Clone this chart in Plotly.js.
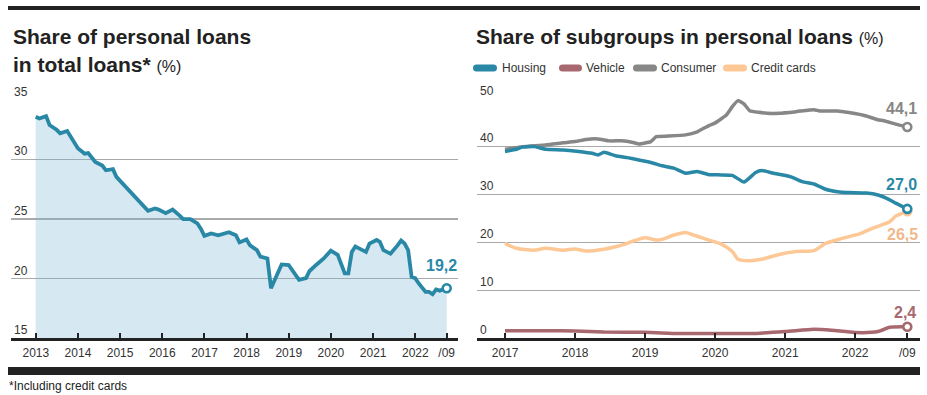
<!DOCTYPE html>
<html>
<head>
<meta charset="utf-8">
<script src="https://cdn.plot.ly/plotly-3.0.1.min.js"></script>
<style>
html,body{margin:0;padding:0;background:#fff;}
#chart{width:927px;height:395px;}
</style>
</head>
<body>
<div id="chart"></div>
<script>
// ---------------- DATA ----------------
// Left panel: share of personal loans in total loans (%), month-end readings
const totalMonths = ["2012-12","2013-01","2013-03","2013-04","2013-06","2013-07","2013-09","2013-10","2013-12","2014-02",
  "2014-03","2014-05","2014-07","2014-08","2014-10","2014-11","2015-02","2015-04","2015-06","2015-08",
  "2015-10","2015-11","2016-01","2016-03","2016-05","2016-06","2016-08","2016-10","2016-11","2016-12",
  "2017-02","2017-04","2017-07","2017-09","2017-10","2017-12","2018-01","2018-03","2018-04","2018-06",
  "2018-07","2018-09","2018-10","2018-12","2019-02","2019-03","2019-05","2019-06","2019-08","2019-10",
  "2019-12","2020-02","2020-04","2020-05","2020-06","2020-07","2020-08","2020-10","2020-11","2021-01",
  "2021-02","2021-03","2021-04","2021-05","2021-07","2021-08","2021-09","2021-10","2021-11","2021-12",
  "2022-01","2022-03","2022-04","2022-05","2022-06","2022-07","2022-09"];
const totalShare = [33.6,33.45,33.65,32.9,32.5,32.2,32.4,31.9,30.95,30.5,
  30.55,29.8,29.5,29.1,29.2,28.55,27.6,27.0,26.3,25.7,
  25.9,25.8,25.5,25.8,25.3,25.0,25.0,24.65,24.2,23.6,
  23.8,23.65,23.9,23.65,23.05,23.3,22.8,22.4,21.85,21.7,
  19.2,20.45,21.2,21.15,20.4,19.9,20.05,20.65,21.2,21.7,
  22.35,22.0,20.45,20.45,22.25,22.7,22.55,22.25,22.95,23.25,
  23.1,22.4,22.25,22.1,22.8,23.2,22.95,22.4,20.15,20.05,
  19.6,18.9,18.9,18.7,19.1,19.0,19.2];
const totalLabel = "19,2";

// Right panel: share of subgroups in personal loans (%)
const housingMonths = ["2016-12","2017-02","2017-03","2017-05","2017-07","2017-10","2018-01","2018-03","2018-04","2018-05",
  "2018-07","2018-09","2018-11","2019-01","2019-03","2019-05","2019-07","2019-09","2019-11","2020-01",
  "2020-03","2020-05","2020-07","2020-08","2020-10","2021-01","2021-03","2021-05","2021-07","2021-09",
  "2021-11","2022-02","2022-04","2022-06","2022-07","2022-09"];
const housingShare = [39.0,39.45,39.9,40.0,39.45,39.3,38.95,38.6,38.25,38.8,
  38.1,37.7,37.2,36.7,36.0,35.5,34.45,34.8,34.15,34.1,
  34.0,32.6,34.6,35.0,34.45,33.7,32.7,32.2,31.1,30.6,
  30.4,30.3,29.9,28.9,28.2,27.0];

const vehicleMonths = ["2016-12","2017-07","2017-12","2018-05","2018-12","2019-06","2019-12","2020-06","2020-12","2021-05",
  "2021-08","2021-12","2022-04","2022-06","2022-09"];
const vehicleShare = [1.6,1.6,1.5,1.3,1.25,1.0,1.0,1.0,1.4,1.9,1.7,1.2,1.4,2.3,2.4];

const consumerMonths = ["2016-12","2017-03","2017-07","2017-10","2017-12","2018-02","2018-04","2018-06","2018-08","2018-10",
  "2018-11","2019-01","2019-02","2019-04","2019-07","2019-09","2019-11","2019-12","2020-02","2020-03",
  "2020-04","2020-05","2020-06","2020-09","2020-11","2021-02","2021-05","2021-06","2021-09","2021-11",
  "2022-02","2022-04","2022-05","2022-07","2022-09"];
const consumerShare = [39.45,40.0,40.35,40.8,41.05,41.5,41.6,41.2,41.2,40.85,
  40.55,41.05,42.1,42.2,42.45,43.1,44.4,44.9,46.6,48.35,
  49.6,48.9,47.5,46.97,46.97,47.3,47.7,47.45,47.45,47.1,
  46.4,45.6,45.4,44.7,44.1];

const cardsMonths = ["2016-12","2017-02","2017-05","2017-07","2017-10","2017-12","2018-02","2018-05","2018-07","2018-09",
  "2018-10","2018-12","2019-02","2019-03","2019-05","2019-07","2019-08","2019-10","2019-11","2020-01",
  "2020-03","2020-04","2020-06","2020-08","2020-11","2021-02","2021-05","2021-07","2021-10","2022-01",
  "2022-03","2022-06","2022-07","2022-09"];
const cardsShare = [19.8,18.8,18.4,18.8,18.4,18.65,18.2,18.6,19.1,19.8,
  20.3,21.0,20.5,20.65,21.55,22.1,21.7,20.9,20.5,19.7,
  18.1,16.5,16.2,16.5,17.5,18.1,18.3,19.8,20.9,21.9,
  22.95,24.3,25.5,26.5];

const seriesNames = ["Housing","Vehicle","Consumer","Credit cards"];
const endLabels = {Housing:"27,0", Vehicle:"2,4", Consumer:"44,1", "Credit cards":"26,5"};

const leftTickDates = ["2013-01-01","2014-01-01","2015-01-01","2016-01-01","2017-01-01","2018-01-01","2019-01-01","2020-01-01","2021-01-01","2022-01-01","2022-09-30"];
const leftTickText  = ["2013","2014","2015","2016","2017","2018","2019","2020","2021","2022","/09"];
const rightTickDates = ["2017-01-01","2018-01-01","2019-01-01","2020-01-01","2021-01-01","2022-01-01","2022-09-30"];
const rightTickText  = ["2017","2018","2019","2020","2021","2022","/09"];
const leftYTicks = [15,20,25,30,35];
const rightYTicks = [0,10,20,30,40,50];

// ---------------- STYLE ----------------
const W = 927, H = 395;
const FONT = "'Liberation Sans', Arial, sans-serif";
const C = {housing:"#2a88a7", vehicle:"#a8686f", consumer:"#878787", cards:"#fdc895", cardsText:"#f0b98b",
           fill:"rgba(120,178,210,0.30)", grid:"#a9a9a9", ink:"#222222", tick:"#333333"};
const fx = p => p / W;
const fy = p => 1 - p / H;
function monthEnd(s){
  const [y,m] = s.split("-").map(Number);
  const d = new Date(Date.UTC(y, m, 0)).getUTCDate();
  return y + "-" + String(m).padStart(2,"0") + "-" + String(d).padStart(2,"0");
}
function fmt(ms){ return new Date(ms).toISOString().slice(0,19).replace("T"," "); }
function dateRange(d0,p0,d1,p1,a,b){
  const t0 = Date.parse(d0+"T00:00:00Z"), t1 = Date.parse(d1+"T00:00:00Z");
  const k = (p1-p0)/(t1-t0);
  return [fmt(t0-(p0-a)/k), fmt(t1+(b-p1)/k)];
}
const last = a => a[a.length-1];

const totalX = totalMonths.map(monthEnd);
const hX = housingMonths.map(monthEnd), vX = vehicleMonths.map(monthEnd),
      cX = consumerMonths.map(monthEnd), kX = cardsMonths.map(monthEnd);

function lineTrace(x,y,color,xa,ya,width,extra){
  return Object.assign({type:"scatter",mode:"lines",x:x,y:y,xaxis:xa,yaxis:ya,
    line:{color:color,width:width,shape:"linear"},hoverinfo:"skip"}, extra||{});
}
function endMarker(x,y,color,xa,ya){
  return {type:"scatter",mode:"markers",x:[last(x)],y:[last(y)],xaxis:xa,yaxis:ya,hoverinfo:"skip",
    marker:{symbol:"circle",size:8,color:"#ffffff",line:{color:color,width:2.6}}};
}

const traces = [
  lineTrace(totalX,totalShare,C.housing,"x","y",3.8,{fill:"tozeroy",fillcolor:C.fill}),
  endMarker(totalX,totalShare,C.housing,"x","y"),
  lineTrace(kX,cardsShare,C.cards,"x2","y2",3.5,{line:{color:C.cards,width:3.5,shape:"spline",smoothing:0.6}}),
  lineTrace(vX,vehicleShare,C.vehicle,"x2","y2",3.5,{line:{color:C.vehicle,width:3.5,shape:"spline",smoothing:0.6}}),
  lineTrace(cX,consumerShare,C.consumer,"x2","y2",3.5,{line:{color:C.consumer,width:3.5,shape:"spline",smoothing:0.4}}),
  lineTrace(hX,housingShare,C.housing,"x2","y2",3.5,{line:{color:C.housing,width:3.5,shape:"spline",smoothing:0.4}}),
  endMarker(kX,cardsShare,C.cards,"x2","y2"),
  endMarker(vX,vehicleShare,C.vehicle,"x2","y2"),
  endMarker(cX,consumerShare,C.consumer,"x2","y2"),
  endMarker(hX,housingShare,C.housing,"x2","y2")
];

const xCommon = {type:"date",ticks:"inside",ticklen:5,tickwidth:2,tickcolor:C.ink,showline:true,linecolor:C.ink,
  linewidth:2.5,showgrid:false,zeroline:false,tickfont:{family:FONT,size:12,color:C.tick},ticklabelstandoff:2,fixedrange:true};
const yCommon = {showgrid:true,gridcolor:C.grid,gridwidth:1.5,zeroline:false,showline:false,ticks:"",
  ticklabelposition:"inside top",ticklabeloverflow:"allow",tickfont:{family:FONT,size:12,color:C.tick},fixedrange:true};

const layout = {
  width:W,height:H,margin:{l:0,r:0,t:0,b:0,pad:0},paper_bgcolor:"#ffffff",plot_bgcolor:"rgba(0,0,0,0)",
  showlegend:false,font:{family:FONT,size:12,color:C.tick},
  xaxis:Object.assign({},xCommon,{domain:[fx(11),fx(458)],anchor:"y",
    range:dateRange("2012-12-31",35.7,"2022-09-30",446.7,11,458),tickvals:leftTickDates,ticktext:leftTickText}),
  yaxis:Object.assign({},yCommon,{domain:[fy(338.3),fy(100)],anchor:"x",range:[15,35],tickvals:leftYTicks}),
  xaxis2:Object.assign({},xCommon,{domain:[fx(477),fx(920)],anchor:"y2",
    range:dateRange("2016-12-31",505,"2022-09-30",907.3,477,920),tickvals:rightTickDates,ticktext:rightTickText}),
  yaxis2:Object.assign({},yCommon,{domain:[fy(338.3),fy(98.7)],anchor:"x2",range:[0,50],tickvals:rightYTicks}),
  shapes:[],
  annotations:[]
};

// frame rules
layout.shapes.push({type:"rect",xref:"paper",yref:"paper",x0:fx(8),x1:fx(920),y0:fy(10),y1:fy(6),fillcolor:C.ink,line:{width:0},layer:"above"});
layout.shapes.push({type:"rect",xref:"paper",yref:"paper",x0:fx(8),x1:fx(920),y0:fy(375),y1:fy(367),fillcolor:C.ink,line:{width:0},layer:"above"});

// titles
const ann = layout.annotations;
function txt(text,x,y,size,color,opts){
  ann.push(Object.assign({text:text,xref:"paper",yref:"paper",x:fx(x),y:fy(y),xanchor:"left",yanchor:"middle",
    showarrow:false,font:{family:FONT,size:size,color:color}},opts||{}));
}
txt("<b>Share of personal loans</b>",11,36.5,21,C.ink);
txt("<b>in total loans*</b> <span style='font-size:16px'>(%)</span>",11,64.5,21,C.ink);
txt("<b>Share of subgroups in personal loans</b> <span style='font-size:16px'>(%)</span>",474,36.5,21,C.ink);

// legend (manual pills)
const legendItems = [
  {name:seriesNames[0],color:C.housing,x0:473,x1:497,tx:500},
  {name:seriesNames[1],color:C.vehicle,x0:559,x1:582,tx:584},
  {name:seriesNames[2],color:C.consumer,x0:633,x1:657,tx:659},
  {name:seriesNames[3],color:C.cards,x0:723,x1:747,tx:749}
];
const ly = 68, r = 3.5;
legendItems.forEach(it=>{
  const X0=fx(it.x0),X1=fx(it.x1),XA=fx(it.x0+r),XB=fx(it.x1-r),Yt=fy(ly-r),Yb=fy(ly+r),Yc=fy(ly);
  layout.shapes.push({type:"path",xref:"paper",yref:"paper",fillcolor:it.color,line:{width:0},
    path:`M ${XA},${Yt} L ${XB},${Yt} Q ${X1},${Yt} ${X1},${Yc} Q ${X1},${Yb} ${XB},${Yb} L ${XA},${Yb} Q ${X0},${Yb} ${X0},${Yc} Q ${X0},${Yt} ${XA},${Yt} Z`});
  txt(it.name,it.tx,ly,12,C.tick);
});

// footnote
txt("*Including credit cards",7,386,12,C.ink);

// end value labels
function endLabel(text,x,y,xa,ya,color,xshift,yshift,yanchor){
  ann.push({text:"<b>"+text+"</b>",xref:xa,yref:ya,x:last(x),y:last(y),xanchor:"right",yanchor:yanchor,
    xshift:xshift,yshift:yshift,showarrow:false,font:{family:FONT,size:16,color:color}});
}
endLabel(totalLabel,totalX,totalShare,"x","y",C.housing,12,12,"bottom");
endLabel(endLabels.Consumer,cX,consumerShare,"x2","y2",C.consumer,12,8,"bottom");
endLabel(endLabels.Housing,hX,housingShare,"x2","y2",C.housing,12,14,"bottom");
endLabel(endLabels["Credit cards"],kX,cardsShare,"x2","y2",C.cardsText,13,-13,"top");
endLabel(endLabels.Vehicle,vX,vehicleShare,"x2","y2",C.vehicle,11,4,"bottom");

Plotly.newPlot("chart",traces,layout,{staticPlot:true,displayModeBar:false});
</script>
</body>
</html>
